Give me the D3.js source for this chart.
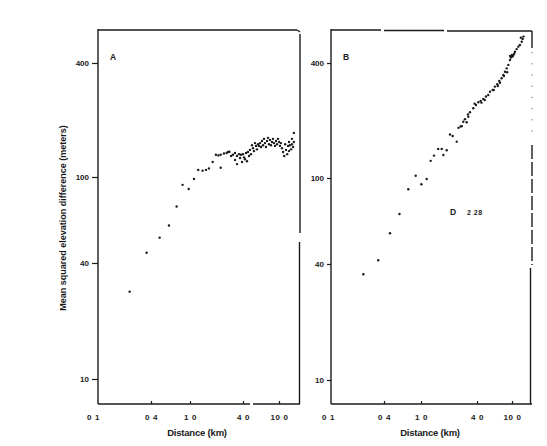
<!DOCTYPE html>
<html><head><meta charset="utf-8">
<script src="https://cdn.jsdelivr.net/npm/d3@7"></script>
<style>
html,body{margin:0;padding:0;background:#fff;}
svg{display:block;font-family:"Liberation Sans",Arial,sans-serif;}
</style></head>
<body>
<svg id="chart" width="547" height="446"></svg>
<script>
// ---- data (distance km, mean squared elevation difference m) ----
const xTickValues = [0.1, 0.4, 1, 4, 10];
const xTickLabels = ["0 1", "0 4", "1 0", "4 0", "10 0"];
const yTickValues = [10, 40, 100, 400];
const yTickLabelsA = ["10", "40", "100", "400"];
const yTickLabelsB = ["10", "40", "100", "400"];
const panelLabels = ["A", "B"];
const annotationB = ["D", "2 28"];
const xTitle = "Distance (km)";
const yTitle = "Mean squared elevation difference (meters)";

const panelA_dist = [0.24,0.36,0.49,0.61,0.73,0.84,0.97,1.11,1.24,1.39,1.52,1.64,1.81,1.97,2.10,2.23,2.23,2.43,2.61,2.80,
 2.70,2.93,3.08,3.25,3.42,3.60,3.80,4.00,3.25,3.42,3.70,3.90,4.21,4.43,4.10,4.32,4.54,4.78,4.90,5.16,
 5.29,5.57,5.70,5.86,6.17,6.33,6.49,6.66,6.83,7.00,7.18,7.37,7.56,7.75,7.95,8.15,8.36,8.58,8.80,9.03,
 9.26,9.50,9.74,10.0,10.26,10.5,10.8,11.1,11.4,11.7,11.95,12.3,12.6,12.9,13.2,13.6,13.9,14.3,14.6,14.6,
 12.9,13.9,5.43,6.0,4.66,5.03];
const panelA_msd = [28.4,44.6,52.4,59.6,73,92,88,98,109,108,109,111,120,131,130,131,112,133,134,136,
 135.5,129,131,134,129,132,131,132,123,117,126,120,124,121,127,134,135.5,139,132,142,
 137,146,140,149,151,144,155,147,159,151,144,155,161,149,157,147,153,159,151,146,
 155,149,159,153,146,151,142,135.5,129,149,139,132,146,153,147,140,149,144,153,171,
 137,159,151,146,129,147];

const panelB_dist = [0.24,0.347,0.464,0.587,0.73,0.877,1.01,1.15,1.27,1.38,1.53,1.67,1.74,1.89,2.05,2.19,2.42,2.53,2.67,2.85,
 2.97,3.23,3.36,3.65,3.90,4.14,4.40,4.72,5.06,5.37,5.62,6.03,6.40,6.80,7.17,7.63,7.96,8.32,8.71,9.08,
 9.49,9.93,10.35,10.8,11.3,11.8,12.3,12.9,13.2,12.6,13.5,9.7,10.2,10.6,10.0,9.5,
 3.77,4.5,4.9,6.2,6.9,7.3,8.1,8.8,3.1,2.75,3.2];
const panelB_msd = [35.4,41.6,55.5,68.1,88.7,102.8,93.5,99,123,131,142,142,132,139.7,169,166,155,183,186,197,
 203,209,221,232,241,249,253,259,267,272,283,289,301,310,322,333,346,360,375,391,
 415,432,441,458,473,487,497,517,535,543,550,427,433,447,441,436,
 245,248,256,289,303,315,342,358,196,187,215];

// ---- drawing ----
const svg = d3.select("#chart");
const ink = "#1a1a1a";

const panels = [
  {name: panelLabels[0], x0: 98, x1: 300, top: 30, bottom: 404,
   xRange: [93,151,190,243,279], yRange: [379,263,177,63],
   dist: panelA_dist, msd: panelA_msd, yLabels: yTickLabelsA, labelPos: [110,60], titleX: 197},
  {name: panelLabels[1], x0: 331, x1: 532, top: 30, bottom: 404,
   xRange: [328,384,421,477,512], yRange: [380,264,178,63],
   dist: panelB_dist, msd: panelB_msd, yLabels: yTickLabelsB, labelPos: [343,60], titleX: 430}
];

panels.forEach((p, pi) => {
  const x = d3.scaleLog().domain(xTickValues).range(p.xRange);
  const y = d3.scaleLog().domain(yTickValues).range(p.yRange);
  const g = svg.append("g");

  // frame
  const frame = g.append("g").attr("stroke", ink).attr("stroke-width", 1.4).attr("fill", "none");
  frame.append("line").attr("x1", p.x0).attr("x2", p.x0).attr("y1", p.top - 1).attr("y2", p.bottom);
  if (pi === 0) {
    frame.append("line").attr("x1", p.x0).attr("x2", 250).attr("y1", p.bottom).attr("y2", p.bottom);
    frame.append("line").attr("x1", 253).attr("x2", p.x1).attr("y1", p.bottom).attr("y2", p.bottom);
    frame.append("line").attr("x1", p.x0).attr("x2", p.x1 - 3).attr("y1", p.top).attr("y2", p.top);
    frame.append("path").attr("d", `M${p.x1-3},${p.top}L${p.x1},${p.top+2}`);
    frame.append("line").attr("x1", p.x1).attr("x2", p.x1).attr("y1", p.top + 4).attr("y2", 233);
    frame.append("line").attr("x1", p.x1 - 0.5).attr("x2", p.x1 - 0.5).attr("y1", 242).attr("y2", p.bottom);
  } else {
    frame.append("line").attr("x1", p.x0).attr("x2", p.x1).attr("y1", p.bottom).attr("y2", p.bottom);
    frame.append("line").attr("x1", p.x0).attr("x2", 381).attr("y1", p.top).attr("y2", p.top);
    frame.append("line").attr("x1", 384).attr("x2", 444).attr("y1", p.top + 0.5).attr("y2", p.top + 0.5);
    frame.append("line").attr("x1", 447).attr("x2", p.x1).attr("y1", p.top + 1).attr("y2", p.top + 1);
    frame.append("line").attr("x1", p.x1).attr("x2", p.x1).attr("y1", p.top + 1).attr("y2", 48);
    frame.append("line").attr("x1", p.x1).attr("x2", p.x1).attr("y1", 52).attr("y2", 140)
      .attr("stroke-dasharray", "1.2,10").attr("stroke-width", 1).attr("opacity", 0.7);
    frame.append("line").attr("x1", p.x1).attr("x2", p.x1).attr("y1", 145).attr("y2", 265)
      .attr("stroke-dasharray", "14,3");
    frame.append("line").attr("x1", p.x1 - 1.5).attr("x2", p.x1 - 1.5).attr("y1", 268).attr("y2", p.bottom);
  }

  // x axis ticks (inward) and labels
  const xAxis = d3.axisBottom(x).tickValues(xTickValues)
    .tickFormat((d, i) => xTickLabels[i]).tickSizeInner(-3).tickSizeOuter(0).tickPadding(10);
  const xg = g.append("g").attr("transform", `translate(0,${p.bottom})`).call(xAxis);
  xg.select(".domain").remove();
  xg.selectAll(".tick line").attr("stroke", ink).attr("stroke-width", 1.2)
    .attr("opacity", d => d === 0.1 ? 0 : 1);
  xg.selectAll(".tick text").attr("fill", ink).attr("font-size", 8).attr("font-weight", "bold")
    .attr("font-family", "Liberation Sans, Arial, sans-serif").style("letter-spacing", "0.6px");

  // y axis
  const yAxis = d3.axisLeft(y).tickValues(yTickValues)
    .tickFormat((d, i) => p.yLabels[i]).tickSizeInner(pi === 0 ? 6 : 4).tickSizeOuter(0).tickPadding(3);
  const yg = g.append("g").attr("transform", `translate(${p.x0},0)`).call(yAxis);
  yg.select(".domain").remove();
  yg.selectAll(".tick line").attr("stroke", ink).attr("stroke-width", 1.2);
  yg.selectAll(".tick text").attr("fill", ink).attr("font-size", 8).attr("font-weight", "bold")
    .attr("font-family", "Liberation Sans, Arial, sans-serif");

  // points
  g.append("g").selectAll("circle")
    .data(d3.zip(p.dist, p.msd))
    .join("circle")
    .attr("cx", d => x(d[0]))
    .attr("cy", d => y(d[1]))
    .attr("r", 1.2)
    .attr("fill", ink);

  // panel label
  g.append("text").attr("x", p.labelPos[0]).attr("y", p.labelPos[1])
    .attr("font-size", 8.5).attr("font-weight", "bold").attr("fill", ink).text(p.name);

  // x title
  g.append("text").attr("x", p.titleX).attr("y", 436).attr("text-anchor", "middle")
    .attr("font-size", 9.5).attr("font-weight", "bold").attr("fill", ink)
    .style("letter-spacing", "-0.2px").text(xTitle);
});

// annotation in panel B
svg.append("text").attr("x", 450).attr("y", 215).attr("font-size", 8.5).attr("font-weight", "bold")
  .attr("fill", ink).text(annotationB[0]);
svg.append("text").attr("x", 467).attr("y", 215).attr("font-size", 7).attr("font-weight", "bold")
  .attr("fill", ink).style("letter-spacing", "0.5px").text(annotationB[1]);

// y axis title
svg.append("text")
  .attr("transform", "translate(66,218) rotate(-90)")
  .attr("text-anchor", "middle")
  .attr("font-size", 9).attr("font-weight", "bold").attr("fill", ink)
  .text(yTitle);
</script>
</body></html>
